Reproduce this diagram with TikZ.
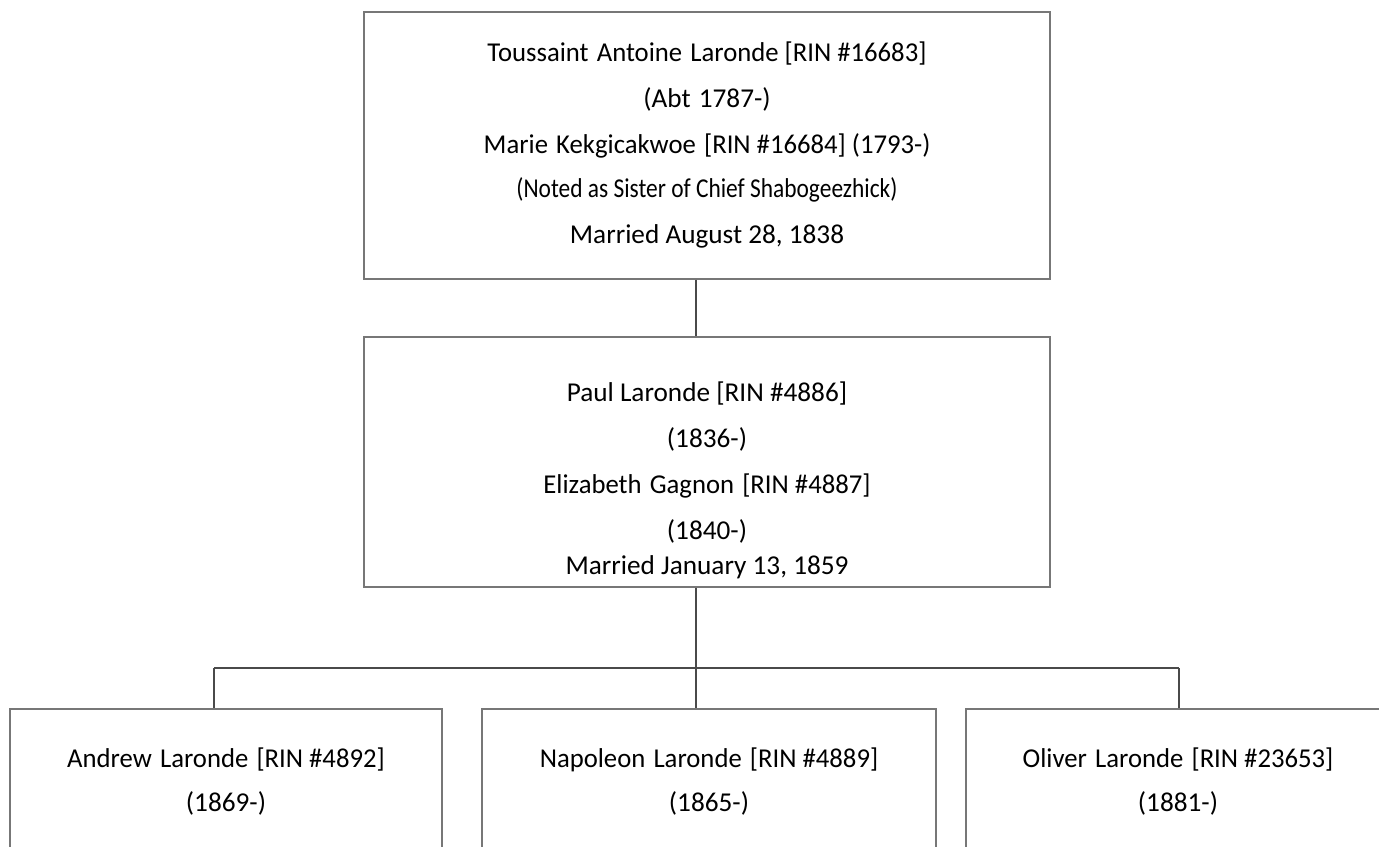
\documentclass[tikz,border=0pt]{standalone}
\usepackage{fontspec}
\setmainfont{Carlito}
\newfontfamily\narrowfont[FakeStretch=0.86]{Carlito}
\newfontfamily\tightfont[FakeStretch=0.98]{Carlito}
\usetikzlibrary{positioning}
\definecolor{cframe}{HTML}{777777}
\definecolor{cline}{HTML}{4A4A4A}
\newcommand{\wsp}{\hspace{0.3em}}
\tikzset{
  every picture/.style={line width=0.8pt},
  person/.style={draw=cframe, rectangle, inner sep=0pt},
  txt/.style={font=\fontsize{15.5}{18}\selectfont, anchor=base, inner sep=0pt},
  conn/.style={draw=cline},
}

\begin{document}
\begin{tikzpicture}[x=0.02cm, y=-0.02cm]
  \useasboundingbox (0,0) rectangle (1379,846);
  \clip (0,0) rectangle (1379,846);
  % boxes
  \node[person, minimum width=13.72cm, minimum height=5.34cm] (top) at (707,145.5) {};
  \node[person, minimum width=13.72cm, minimum height=5.0cm] (mid) at (707,462) {};
  \node[person, minimum width=8.64cm, minimum height=3.82cm] (kidA) at (226,804.5) {};
  \node[person, minimum width=9.08cm, minimum height=3.82cm] (kidN) at (709,804.5) {};
  \node[person, minimum width=8.48cm, minimum height=3.82cm] (kidO) at (1178,804.5) {};
  % first couple
  \node[txt] (t1) at (707,61.5) {\tightfont Toussaint\wsp Antoine\wsp Laronde [RIN \#16683]};
  \node[txt] (t2) at (707,107.5) {(Abt\wsp 1787-)};
  \node[txt] (t3) at (707,153.5) {\tightfont Marie\wsp Kekgicakwoe\wsp [RIN \#16684] (1793-)};
  \node[txt] (t4) at (707,197.5) {\narrowfont (Noted as Sister of Chief Shabogeezhick)};
  \node[txt] (t5) at (707,243.5) {Married August 28, 1838};
  % second couple
  \node[txt] (m1) at (707,401.5) {Paul Laronde [RIN \#4886]};
  \node[txt] (m2) at (707,447.5) {(1836-)};
  \node[txt] (m3) at (707,493.5) {\tightfont Elizabeth\wsp Gagnon\wsp [RIN \#4887]};
  \node[txt] (m4) at (707,539.5) {(1840-)};
  \node[txt] (m5) at (707,574.5) {Married January 13, 1859};
  % children
  \node[txt] (a1) at (226,767.5) {\tightfont Andrew\wsp Laronde\wsp [RIN \#4892]};
  \node[txt] (a2) at (226,811.5) {(1869-)};
  \node[txt] (n1) at (709,767.5) {\tightfont Napoleon\wsp Laronde\wsp [RIN \#4889]};
  \node[txt] (n2) at (709,811.5) {(1865-)};
  \node[txt] (o1) at (1178,767.5) {\tightfont Oliver\wsp Laronde\wsp [RIN \#23653]};
  \node[txt] (o2) at (1178,811.5) {(1881-)};
  % connectors
  \coordinate (jn) at (696,668);
  \coordinate (bA) at (214,668);
  \coordinate (bO) at (1179,668);
  \draw[conn] (top.south -| jn) -- (mid.north -| jn);
  \draw[conn] (mid.south -| jn) -- (jn);
  \draw[conn] (bA) -- (bO);
  \draw[conn] (bA) -- (bA |- kidA.north);
  \draw[conn] (jn) -- (jn |- kidN.north);
  \draw[conn] (bO) -- (bO |- kidO.north);
\end{tikzpicture}
\end{document}
